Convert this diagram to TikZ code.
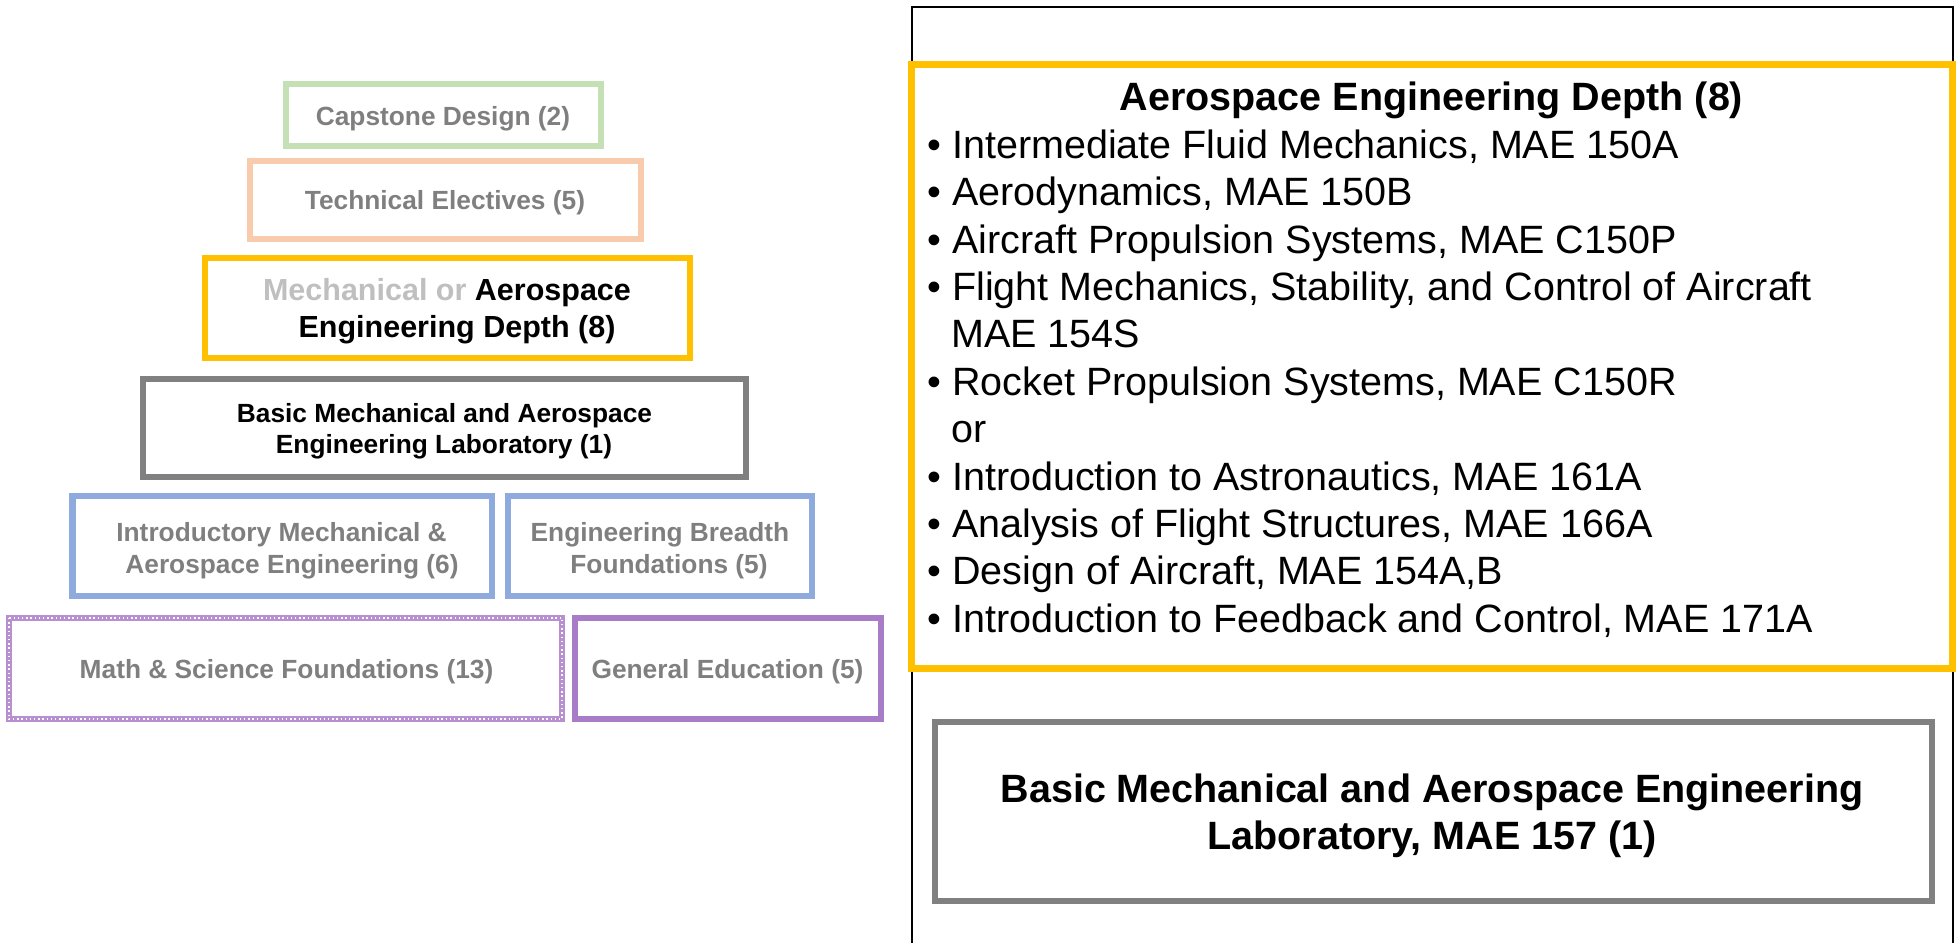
\documentclass[tikz,border=0pt]{standalone}
\usepackage{fontspec}
\setmainfont{Liberation Sans}
\definecolor{txtgray}{HTML}{7F7F7F}
\definecolor{ltgray}{HTML}{BFBFBF}
\definecolor{cgreen}{HTML}{C5E0B4}
\definecolor{corange}{HTML}{F8CBAD}
\definecolor{cyellow}{HTML}{FFC000}
\definecolor{cgray}{HTML}{808080}
\definecolor{cblue}{HTML}{8FAADC}
\definecolor{cpurple}{HTML}{A87CC6}
\definecolor{cpurplelt}{HTML}{B890D2}
\tikzset{
  box/.style={line width=3.25pt},
  ltxt/.style={inner sep=0pt, anchor=base, text=txtgray, font=\bfseries\fontsize{13.15pt}{15pt}\selectfont},
  mtxt/.style={inner sep=0pt, anchor=base, font=\bfseries\fontsize{15.25pt}{17pt}\selectfont},
  rtxt/.style={inner sep=0pt, anchor=base west, font=\fontsize{19.75pt}{23pt}\selectfont},
  rbold/.style={inner sep=0pt, anchor=base, font=\bfseries\fontsize{19.75pt}{23pt}\selectfont},
}
\begin{document}
\begin{tikzpicture}[x=0.5pt,y=-0.5pt]
\useasboundingbox (0,0) rectangle (1956,943);
% left pyramid boxes
\draw[box, cgreen]  (286,84) rectangle (601,146);
\draw[box, corange] (250,161) rectangle (641,239);
\draw[box, cyellow] (205,258) rectangle (690,358);
\draw[box, cgray]   (143,379) rectangle (746,477);
\draw[box, cblue]   (72.5,496) rectangle (492,596);
\draw[box, cblue]   (508,496) rectangle (812,596);
\draw[box, cpurplelt] (9,618) rectangle (562,719);
\draw[line width=0.7pt, white, dash pattern=on 0.7pt off 1.4pt] (9,618) rectangle (562,719);
\draw[box, cpurple] (575,618) rectangle (881,719);
% left texts
\node[ltxt] (cap) at (443,125) {Capstone Design (2)};
\node[ltxt] (tech) at (445,209) {Technical Electives (5)};
\node[mtxt] (mech1) at (447,300) {\textcolor{ltgray}{Mechanical or} Aerospace};
\node[mtxt] (mech2) at (457,337) {Engineering Depth (8)};
\node[ltxt, text=black] (lab1) at (444.5,422) {Basic Mechanical and Aerospace};
\node[ltxt, text=black] (lab2) at (444,453) {Engineering Laboratory (1)};
\node[ltxt] (intro1) at (281.5,541) {Introductory Mechanical \&};
\node[ltxt] (intro2) at (292,573) {Aerospace Engineering (6)};
\node[ltxt] (breadth1) at (660,541) {Engineering Breadth};
\node[ltxt] (breadth2) at (669,573) {Foundations (5)};
\node[ltxt] (math) at (286.5,678) {Math \& Science Foundations (13)};
\node[ltxt] (gened) at (727.5,678) {General Education (5)};
% right panel
\draw[line width=1pt, black] (912,943) -- (912,7) -- (1953,7) -- (1953,943);
\draw[line width=3.5pt, cyellow] (911.5,64) rectangle (1952.5,668);
\draw[line width=3.3pt, cgray] (935,722) rectangle (1932,901);
\node[rbold] (title) at (1431.5,110) {Aerospace Engineering Depth (8)};
\node[rtxt] (l0) at (927,158) {• Intermediate Fluid Mechanics, MAE 150A};
\node[rtxt] (l1) at (927,205) {• Aerodynamics, MAE 150B};
\node[rtxt] (l2) at (927,253) {• Aircraft Propulsion Systems, MAE C150P};
\node[rtxt] (l3) at (927,300) {• Flight Mechanics, Stability, and Control of Aircraft};
\node[rtxt] (l4) at (951,347.5) {MAE 154S};
\node[rtxt] (l5) at (927,395) {• Rocket Propulsion Systems, MAE C150R};
\node[rtxt] (l6) at (951,442) {or};
\node[rtxt] (l7) at (927,490) {• Introduction to Astronautics, MAE 161A};
\node[rtxt] (l8) at (927,537) {• Analysis of Flight Structures, MAE 166A};
\node[rtxt] (l9) at (927,584.5) {• Design of Aircraft, MAE 154A,B};
\node[rtxt] (l10) at (927,632) {• Introduction to Feedback and Control, MAE 171A};
\node[rbold] (rlab1) at (1432,802) {Basic Mechanical and Aerospace Engineering};
\node[rbold] (rlab2) at (1432,849) {Laboratory, MAE 157 (1)};
\end{tikzpicture}
\end{document}
